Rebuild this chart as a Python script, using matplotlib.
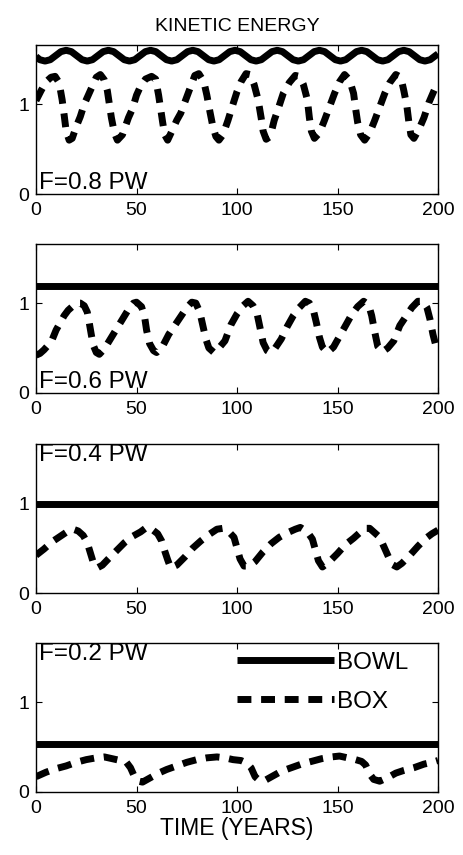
import matplotlib
matplotlib.use("Agg")
import matplotlib.pyplot as plt

plt.rcParams['font.family'] = ['Liberation Sans', 'DejaVu Sans']

# ---- data ----
# F = 0.8 PW
t_bowl_08 = [0, 1.9, 4.5, 7.1, 9.75, 12.4, 15, 17.6, 20.25, 22.9, 25.5, 28.1, 30.75, 33.4,
             36, 38.6, 41.25, 43.9, 46.5, 49.1, 51.75, 54.4, 57, 59.6, 62.25, 64.9, 67.5,
             70.1, 72.75, 75.4, 78, 80.6, 83.25, 85.9, 88.5, 91.1, 93.75, 96.4, 99, 101.6,
             104.25, 106.9, 109.5, 112.1, 114.75, 117.4, 120, 122.6, 125.25, 127.9, 130.5,
             133.1, 135.75, 138.4, 141, 143.6, 146.25, 148.9, 151.5, 154.1, 156.75, 159.4,
             162, 164.6, 167.25, 169.9, 172.5, 175.1, 177.75, 180.4, 183, 185.6, 188.25,
             190.9, 193.5, 196.1, 198.75, 200]
ke_bowl_08 = [1.53, 1.495, 1.48, 1.495, 1.54, 1.585, 1.60, 1.585, 1.54, 1.495, 1.48, 1.495,
              1.54, 1.585, 1.60, 1.585, 1.54, 1.495, 1.48, 1.495, 1.54, 1.585, 1.60, 1.585,
              1.54, 1.495, 1.48, 1.495, 1.54, 1.585, 1.60, 1.585, 1.54, 1.495, 1.48, 1.495,
              1.54, 1.585, 1.60, 1.585, 1.54, 1.495, 1.48, 1.495, 1.54, 1.585, 1.60, 1.585,
              1.54, 1.495, 1.48, 1.495, 1.54, 1.585, 1.60, 1.585, 1.54, 1.495, 1.48, 1.495,
              1.54, 1.585, 1.60, 1.585, 1.54, 1.495, 1.48, 1.495, 1.54, 1.585, 1.60, 1.585,
              1.54, 1.495, 1.48, 1.495, 1.54, 1.56]
t_box_08 = [0, 2.5, 5, 7.5, 9.5, 11.5, 13, 14, 15, 16.5, 18, 20, 22, 24, 26, 28, 30, 32, 34,
            35.5, 36.5, 37.5, 39, 40.5, 43, 46, 48, 50, 52, 54.5, 57.5, 59.5, 61, 62, 63, 64,
            65.5, 68, 70, 72, 74.5, 77, 79, 81, 83.5, 85, 86.5, 88, 89.5, 91, 93, 95.5, 98,
            100, 102, 104.5, 106.5, 108.5, 110.5, 112, 113, 114.5, 116.5, 118.5, 120.5, 123,
            126, 129, 131, 133, 135, 136, 137, 138.5, 141, 143.5, 146, 148.5, 151, 153.5, 156,
            158, 159, 160, 161.5, 163.5, 166, 168.5, 171, 173.5, 176, 179, 181.5, 183, 184.5,
            185.5, 186.5, 188, 190.5, 193, 195.5, 198, 200]
ke_box_08 = [1.04, 1.15, 1.25, 1.30, 1.31, 1.24, 1.05, 0.88, 0.70, 0.60, 0.62, 0.75, 0.86,
             1.00, 1.10, 1.20, 1.30, 1.33, 1.27, 1.15, 1.00, 0.85, 0.68, 0.60, 0.66, 0.85,
             0.95, 1.10, 1.20, 1.28, 1.31, 1.28, 1.10, 0.95, 0.80, 0.66, 0.60, 0.72, 0.82,
             0.90, 1.05, 1.20, 1.32, 1.34, 1.25, 1.10, 0.92, 0.75, 0.64, 0.60, 0.66, 0.82,
             1.00, 1.14, 1.25, 1.34, 1.33, 1.22, 1.05, 0.85, 0.70, 0.61, 0.64, 0.82, 0.95,
             1.12, 1.24, 1.32, 1.31, 1.22, 1.05, 0.85, 0.70, 0.62, 0.68, 0.82, 0.97, 1.12,
             1.25, 1.33, 1.27, 1.12, 0.95, 0.80, 0.66, 0.60, 0.68, 0.82, 0.97, 1.12, 1.24,
             1.33, 1.30, 1.15, 0.98, 0.80, 0.66, 0.62, 0.72, 0.85, 1.02, 1.15, 1.25]

# F = 0.6 PW
t_bowl_06 = [0, 200]
ke_bowl_06 = [1.19, 1.19]
t_box_06 = [0, 2, 4, 6, 8, 10, 12, 14, 16, 18, 20.5, 22, 24, 25.5, 26.5, 27.5, 28.5, 30, 31.5,
            34, 37, 40, 43, 46, 48.5, 50, 52.5, 54, 55, 56.5, 58.5, 60, 63, 66, 69, 72, 75,
            77.5, 79.5, 81.5, 83, 84.5, 86, 88.5, 91, 94, 97, 100, 103, 105.5, 108, 110,
            111.5, 113, 115, 116.5, 119, 122, 125, 128, 131, 134, 136, 138, 139.5, 141, 142.5,
            145, 148, 151, 154, 157, 160, 163, 165.5, 167, 168.5, 170, 172.5, 175, 178, 181,
            184, 187, 190, 192.5, 194.5, 196, 197.5, 199, 200]
ke_box_06 = [0.42, 0.44, 0.48, 0.53, 0.59, 0.70, 0.78, 0.86, 0.92, 0.96, 1.00, 1.00, 0.97,
             0.90, 0.78, 0.65, 0.53, 0.45, 0.43, 0.49, 0.60, 0.71, 0.82, 0.93, 1.00, 1.01,
             0.96, 0.85, 0.70, 0.55, 0.47, 0.45, 0.52, 0.65, 0.75, 0.85, 0.95, 1.01, 1.00,
             0.90, 0.75, 0.60, 0.50, 0.45, 0.50, 0.58, 0.76, 0.88, 0.97, 1.02, 0.97, 0.88,
             0.72, 0.56, 0.47, 0.45, 0.50, 0.60, 0.74, 0.86, 0.95, 1.02, 1.00, 0.92, 0.78,
             0.62, 0.51, 0.45, 0.51, 0.63, 0.75, 0.87, 0.96, 1.02, 0.98, 0.86, 0.68, 0.52,
             0.46, 0.50, 0.58, 0.75, 0.85, 0.95, 1.02, 1.02, 0.95, 0.82, 0.65, 0.52, 0.48]

# F = 0.4 PW
t_bowl_04 = [0, 200]
ke_bowl_04 = [0.99, 0.99]
t_box_04 = [0, 4, 8, 12, 16, 18.5, 21, 23.5, 25.5, 27, 28.5, 30.5, 33, 36, 40, 44, 48, 52, 55,
            57, 60.5, 62.5, 64, 65.5, 67, 70, 74, 78, 82, 86, 90, 93, 96, 98.5, 100, 101.5,
            103.5, 106, 109, 113, 117, 121, 125, 129, 131.5, 135, 137.5, 139, 140.5, 142.5,
            146, 150, 154, 158, 161, 163.5, 166, 169, 171, 173, 175, 177, 179.5, 182, 186,
            190, 194, 197, 200]
ke_box_04 = [0.42, 0.49, 0.57, 0.63, 0.69, 0.71, 0.69, 0.64, 0.56, 0.45, 0.34, 0.28, 0.31,
             0.38, 0.47, 0.56, 0.63, 0.68, 0.73, 0.72, 0.66, 0.58, 0.47, 0.37, 0.28, 0.31,
             0.40, 0.50, 0.58, 0.65, 0.71, 0.72, 0.68, 0.62, 0.50, 0.38, 0.30, 0.30, 0.35,
             0.46, 0.55, 0.62, 0.67, 0.71, 0.73, 0.68, 0.60, 0.48, 0.36, 0.29, 0.35, 0.44,
             0.54, 0.61, 0.67, 0.72, 0.72, 0.66, 0.62, 0.52, 0.42, 0.32, 0.29, 0.33, 0.42,
             0.52, 0.61, 0.66, 0.70]

# F = 0.2 PW
t_bowl_02 = [0, 200]
ke_bowl_02 = [0.53, 0.53]
t_box_02 = [0, 5, 10, 15, 20, 25, 30, 34, 38, 42, 45, 47, 49, 51, 53, 57, 61, 65, 70, 75, 80,
            85, 90, 94, 98, 102, 105, 107, 109, 111, 114, 118, 122, 127, 132, 137, 142, 147,
            151, 155, 159, 162, 164, 166, 168, 171, 175, 179, 183, 188, 193, 197, 200]
ke_box_02 = [0.17, 0.22, 0.26, 0.29, 0.33, 0.36, 0.38, 0.39, 0.37, 0.35, 0.33, 0.27, 0.17,
             0.12, 0.11, 0.16, 0.21, 0.25, 0.29, 0.33, 0.36, 0.38, 0.39, 0.38, 0.36, 0.35,
             0.32, 0.27, 0.17, 0.13, 0.13, 0.18, 0.23, 0.27, 0.31, 0.34, 0.37, 0.39, 0.40,
             0.38, 0.36, 0.34, 0.30, 0.20, 0.14, 0.12, 0.16, 0.21, 0.24, 0.27, 0.31, 0.33,
             0.35]

panels = [
    ("F=0.8 PW", t_bowl_08, ke_bowl_08, t_box_08, ke_box_08, "bottom"),
    ("F=0.6 PW", t_bowl_06, ke_bowl_06, t_box_06, ke_box_06, "bottom"),
    ("F=0.4 PW", t_bowl_04, ke_bowl_04, t_box_04, ke_box_04, "top"),
    ("F=0.2 PW", t_bowl_02, ke_bowl_02, t_box_02, ke_box_02, "top"),
]
xticks = [0, 50, 100, 150, 200]
yticks = [0, 1]

fig = plt.figure(figsize=(4.64, 8.55), dpi=100)
bottoms = [0.773, 0.5404, 0.3064, 0.0737]
axes = []
for (label, tb, kb, tx, kx, where), b in zip(panels, bottoms):
    ax = fig.add_axes([0.0776, b, 0.8664, 0.1745])
    bowl, = ax.plot(tb, kb, color='k', lw=5.0, solid_capstyle='butt')
    box, = ax.plot(tx, kx, color='k', lw=5.0, linestyle=(0, (2.0, 1.4)))
    ax.set_xlim(0, 200)
    ax.set_ylim(0, 1.66)
    ax.set_xticks(xticks)
    ax.set_yticks(yticks)
    ax.tick_params(direction='in', top=True, right=True, length=4, width=0.8,
                   labelsize=14)
    ax.tick_params(axis='x', pad=6)
    ax.tick_params(axis='y', pad=5)
    for s in ax.spines.values():
        s.set_linewidth(1.0)
    ypos = 0.075 if where == "bottom" else 0.925
    ax.text(0.008, ypos, label, transform=ax.transAxes, fontsize=17.5,
            va='center', ha='left')
    axes.append(ax)

axes[0].set_title("KINETIC ENERGY", fontsize=14, pad=10)
axes[-1].set_xlabel("TIME (YEARS)", fontsize=16.5, labelpad=0)
axes[-1].legend([bowl, box], ["BOWL", "BOX"], loc='upper left',
                bbox_to_anchor=(0.50, 0.94), frameon=False, fontsize=17.5,
                handlelength=4.0, handletextpad=0.1, borderpad=0,
                borderaxespad=0, labelspacing=0.7)

fig.savefig("out.png", dpi=100)
